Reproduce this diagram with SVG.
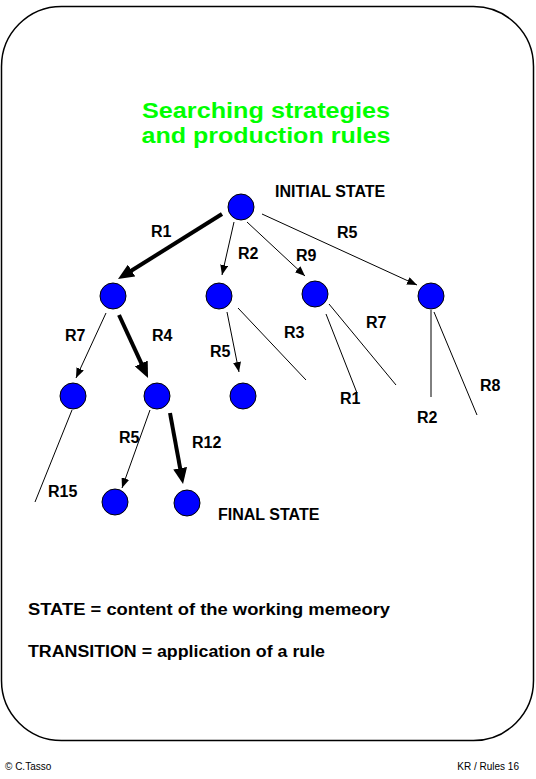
<svg xmlns="http://www.w3.org/2000/svg" width="536" height="779" viewBox="0 0 536 779">
<style>
.node{fill:#0000ff;stroke:#000;stroke-width:1}
.thin{stroke:#000;stroke-width:1;fill:none}
.thick{stroke:#000;stroke-width:4;fill:none}
.lbl{font-family:"Liberation Sans",Arial,sans-serif;font-weight:bold;font-size:16px;fill:#000}
.title{font-family:"Liberation Sans",Arial,sans-serif;font-weight:bold;font-size:22px;fill:#00ff00}
.foot{font-family:"Liberation Sans",Arial,sans-serif;font-size:10px;fill:#000}
</style>
<defs>
<marker id="a" markerUnits="userSpaceOnUse" markerWidth="10" markerHeight="8" refX="10" refY="4" orient="auto"><path d="M0,0 L10,4 L0,8 z" fill="#000"/></marker>
<marker id="b" markerUnits="userSpaceOnUse" markerWidth="16" markerHeight="14" refX="8" refY="7" orient="auto"><path d="M0,0 L16,7 L0,14 z" fill="#000"/></marker>
</defs>
<rect x="1.5" y="6.5" width="532" height="734" rx="60" ry="60" fill="#fff" stroke="#000" stroke-width="1.5"/>
<g id="title">
<text class="title" x="266" y="118" text-anchor="middle" textLength="248" lengthAdjust="spacingAndGlyphs">Searching strategies</text>
<text class="title" x="266" y="143" text-anchor="middle" textLength="249" lengthAdjust="spacingAndGlyphs">and production rules</text>
</g>
<g id="connectors">
<line class="thick" x1="222" y1="214" x2="124.8" y2="274.8" marker-end="url(#b)"/>
<line class="thin" x1="234" y1="222" x2="222" y2="275" marker-end="url(#a)"/>
<line class="thin" x1="247" y1="222" x2="305" y2="276" marker-end="url(#a)"/>
<line class="thin" x1="262" y1="214" x2="417" y2="285" marker-end="url(#a)"/>
<line class="thin" x1="106" y1="313" x2="76" y2="378" marker-end="url(#a)"/>
<line class="thick" x1="119" y1="315" x2="144.7" y2="370.7" marker-end="url(#b)"/>
<line class="thin" x1="227" y1="312" x2="239" y2="372" marker-end="url(#a)"/>
<line class="thin" x1="238" y1="308" x2="306" y2="380"/>
<line class="thin" x1="326" y1="314" x2="357" y2="393"/>
<line class="thin" x1="329" y1="304" x2="396" y2="385"/>
<line class="thin" x1="431" y1="310" x2="431" y2="397"/>
<line class="thin" x1="434" y1="312" x2="477" y2="415"/>
<line class="thin" x1="72" y1="410" x2="35" y2="502"/>
<line class="thin" x1="150" y1="410" x2="122" y2="488" marker-end="url(#a)"/>
<line class="thick" x1="170" y1="413" x2="181.6" y2="476.1" marker-end="url(#b)"/>
</g>
<g id="n0"><circle class="node" cx="241" cy="207" r="13"/></g>
<g id="n1"><circle class="node" cx="113" cy="296" r="13"/></g>
<g id="n2"><circle class="node" cx="219" cy="296" r="13"/></g>
<g id="n3"><circle class="node" cx="315" cy="294" r="13"/></g>
<g id="n4"><circle class="node" cx="431" cy="296" r="13"/></g>
<g id="n5"><circle class="node" cx="73" cy="396" r="13"/></g>
<g id="n6"><circle class="node" cx="157" cy="396" r="13"/></g>
<g id="n7"><circle class="node" cx="243" cy="396" r="13"/></g>
<g id="n8"><circle class="node" cx="115" cy="502" r="13"/></g>
<g id="n9"><circle class="node" cx="187" cy="503" r="13"/></g>
<g id="labels">
<text class="lbl" x="275" y="197">INITIAL STATE</text>
<text class="lbl" x="151" y="237">R1</text>
<text class="lbl" x="238" y="259">R2</text>
<text class="lbl" x="296" y="261">R9</text>
<text class="lbl" x="337" y="238">R5</text>
<text class="lbl" x="65" y="341">R7</text>
<text class="lbl" x="152" y="341">R4</text>
<text class="lbl" x="210" y="357">R5</text>
<text class="lbl" x="284" y="338">R3</text>
<text class="lbl" x="366" y="328">R7</text>
<text class="lbl" x="340" y="404">R1</text>
<text class="lbl" x="417" y="423">R2</text>
<text class="lbl" x="480" y="391">R8</text>
<text class="lbl" x="119" y="443">R5</text>
<text class="lbl" x="192" y="448">R12</text>
<text class="lbl" x="48" y="497">R15</text>
<text class="lbl" x="218" y="520">FINAL STATE</text>
<text class="lbl" x="28" y="615" textLength="362" lengthAdjust="spacingAndGlyphs">STATE = content of the working memeory</text>
<text class="lbl" x="28" y="657" textLength="297" lengthAdjust="spacingAndGlyphs">TRANSITION = application of a rule</text>
<text class="foot" x="5" y="770">© C.Tasso</text>
<text class="foot" x="519" y="770" text-anchor="end">KR / Rules 16</text>
</g>
</svg>
